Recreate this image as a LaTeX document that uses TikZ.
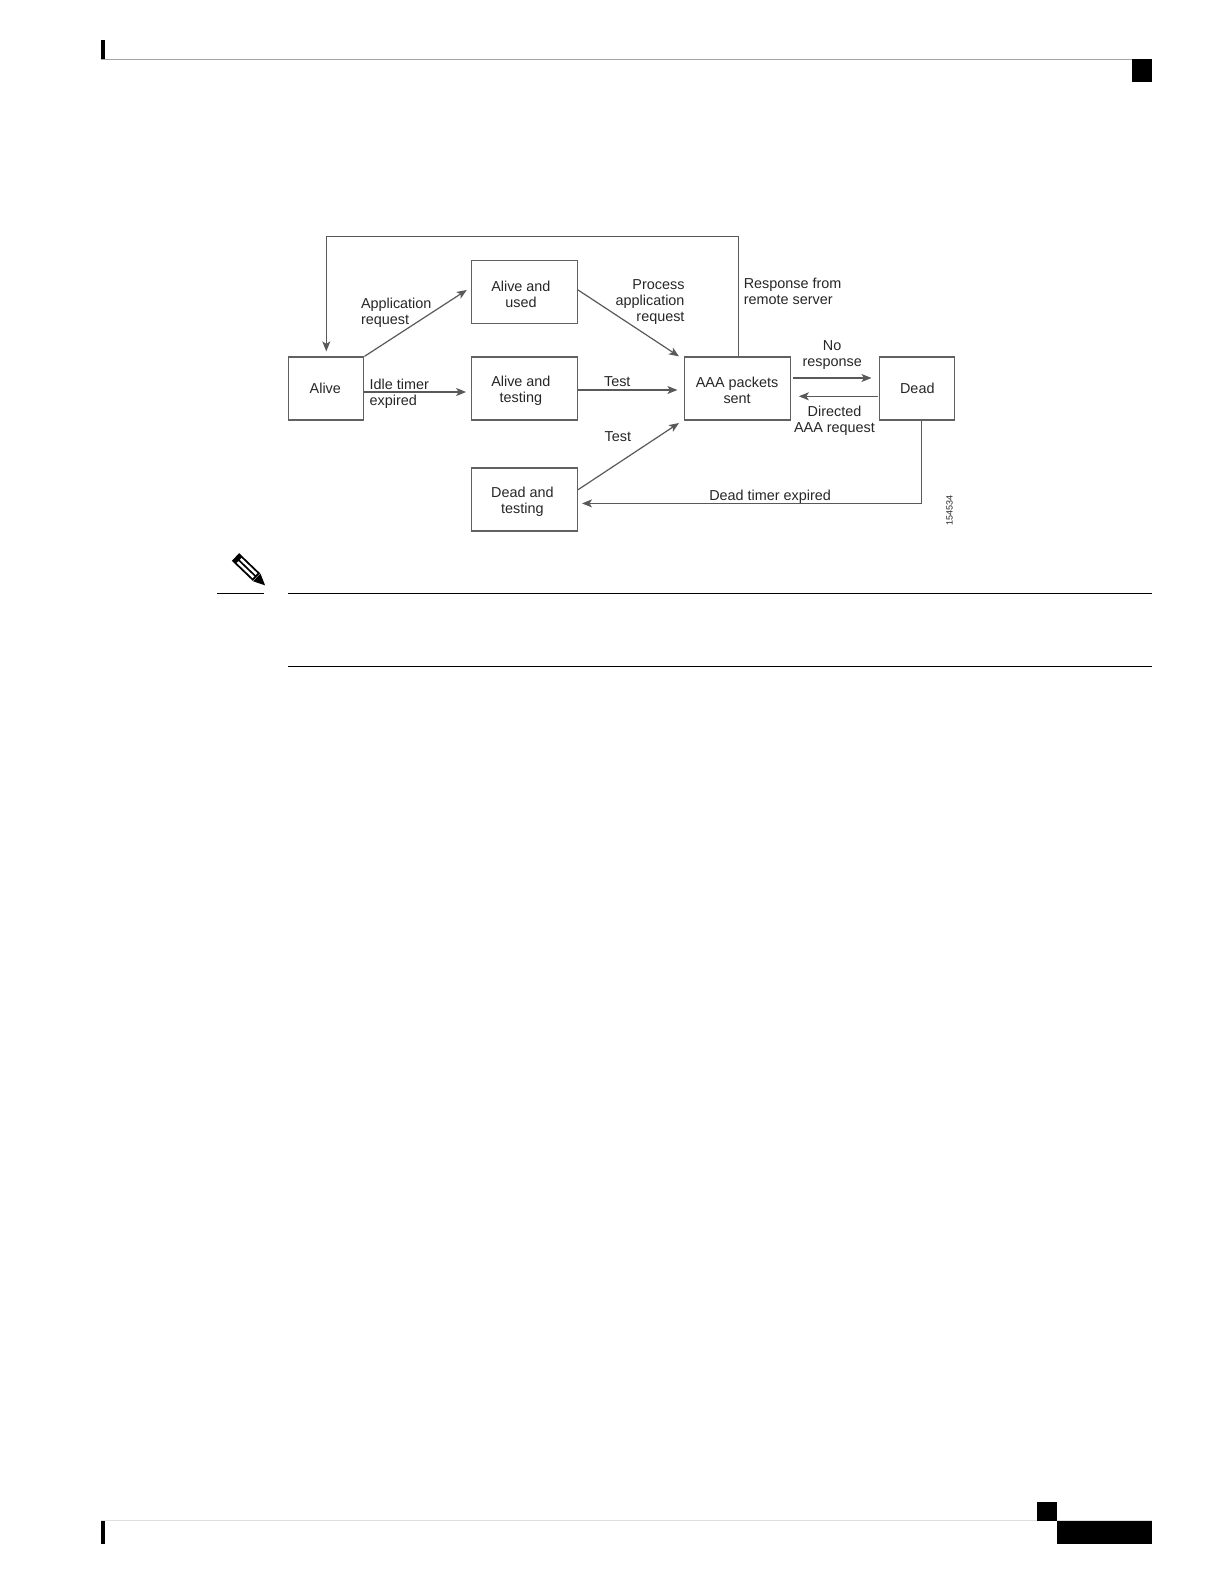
\documentclass[tikz,border=0pt]{standalone}
\usepackage{fontspec}
\setmainfont{Liberation Sans}
\usetikzlibrary{positioning, arrows.meta}
\newcommand{\topgap}{\rule{0pt}{15pt}}

\begin{document}
\begin{tikzpicture}[
  x=1pt, y=1pt,
  statebox/.style={draw=black!62, line width=1.2pt, minimum height=63pt, align=center,
                   inner sep=0pt, text=black!85, font=\fontsize{14.4}{16}\selectfont},
  narrowbox/.style={statebox, minimum width=75pt},
  widebox/.style={statebox, minimum width=106pt},
  arr/.style={-{Stealth[length=10pt, width=8pt, inset=2.5pt]}, line width=1.2pt, color=black!65},
  lbl/.style={inner sep=0pt, text=black!85, font=\fontsize{14.4}{16}\selectfont},
  serial/.style={inner sep=0pt, text=black!85, font=\fontsize{9}{9}\selectfont},
  rulegray/.style={line width=1pt, color=black!35},
  rulepale/.style={line width=1.5pt, color=black!13},
  rulenote/.style={line width=1pt, color=black},
]

\useasboundingbox (0,0) rectangle (1224,-1584);

% === Page furniture ===
\fill (101,-40) rectangle (105,-59.5);
\draw[rulegray] (101,-59.5) -- (1132,-59.5);
\fill (1132,-59) rectangle (1152,-81.7);
\draw[rulepale] (101,-1520.5) -- (1152,-1520.5);
\fill (101,-1521) rectangle (105,-1544);
\fill (1037,-1502) rectangle (1057,-1521);
\fill (1057,-1521) rectangle (1152,-1544);

% === Note rules and pencil ===
\draw[rulenote] (217,-593.3) -- (263.7,-593.3);
\draw[rulenote] (288,-593.3) -- (1152,-593.3);
\draw[rulenote] (288,-666.3) -- (1152,-666.3);
\begin{scope}[shift={(235.5,-557)}, rotate=-43.8]
  \fill (0,-5.3) rectangle (29,5.3);
  \fill[white] (5,-3.4) rectangle (27,-1);
  \fill[white] (5,1) rectangle (27,3.4);
  \fill (29.5,-5.3) -- (29.5,5.3) -- (41,0) -- cycle;
\end{scope}

% === Nodes ===
\node[narrowbox] (alive) at (326.3,-388.5) {Alive\kern2pt};

\node[widebox, right=106.4pt of alive] (testing) {\topgap Alive and\kern7pt\\testing\kern7pt};

\node[widebox, above=32pt of testing] (used) {\topgap Alive and\kern7pt\\used\kern7pt};

\node[widebox, below=46.7pt of testing] (deadtest) {\topgap Dead and\kern4pt\\testing\kern4pt};

\node[widebox, right=106pt of testing] (aaa) {\topgap AAA packets\kern1pt\\sent\kern1pt};

\node[narrowbox, right=88pt of aaa] (dead) {Dead};

% === Arrows ===
\draw[arr] (alive.north east) -- ([shift={(-4pt,2.35pt)}]used.west);
\draw[arr] ([yshift=-3.5pt]alive.east) --
  node[lbl, pos=0, right=4.7pt, yshift=-2pt, align=left] (idlelbl) {Idle timer\\expired}
  ([shift={(-4.7pt,-3.5pt)}]testing.west);
\draw[arr] ([yshift=2.35pt]used.east) -- ([xshift=-5pt]aaa.north west);
\draw[arr] ([yshift=-1.5pt]testing.east) --
  node[lbl, pos=.395, above=3pt] (testlbl) {Test}
  ([shift={(-6.6pt,-1.5pt)}]aaa.west);
\draw[arr] ([yshift=9.65pt]deadtest.east) -- ([shift={(-5pt,-2.4pt)}]aaa.south west);
\draw[arr] ([yshift=10.5pt,xshift=1.6pt]aaa.east) --
  node[lbl, above=8pt, align=center] (nolbl) {No\\response}
  ([shift={(-7.7pt,10.5pt)}]dead.west);
\draw[arr] ([shift={(-1.7pt,-7.8pt)}]dead.west) --
  node[lbl, pos=.546, below=9pt, align=center] (dirlbl) {Directed\\AAA request}
  ([shift={(7.6pt,-7.8pt)}]aaa.east);
\draw[arr] ([xshift=1pt]aaa.north) -- ++(0,119.8) -| ([yshift=5pt]alive.north);
\draw[arr] ([xshift=4.2pt]dead.south) |-
  node[lbl, pos=.723, above=-.5pt] (timerlbl) {Dead timer expired}
  ([shift={(4pt,-4pt)}]deadtest.east);

% === Annotations ===
\node[lbl, above right=28.7pt and -3.6pt of alive.north east, align=left] (applbl) {Application\\request};
\node[lbl, above left=32pt and -.7pt of aaa.north west, align=right] (proclbl) {Process\\application\\request};
\node[lbl, below right=11pt and 26.5pt of testing.south east] (test2lbl) {Test};
\node[lbl, above right=52pt and 6pt of aaa.north, align=left] (resplbl) {Response from\\remote server};
\node[serial, rotate=90] (seriallbl) at ([shift={(-6pt,-89.7pt)}]dead.south east) {154534};

\end{tikzpicture}
\end{document}
